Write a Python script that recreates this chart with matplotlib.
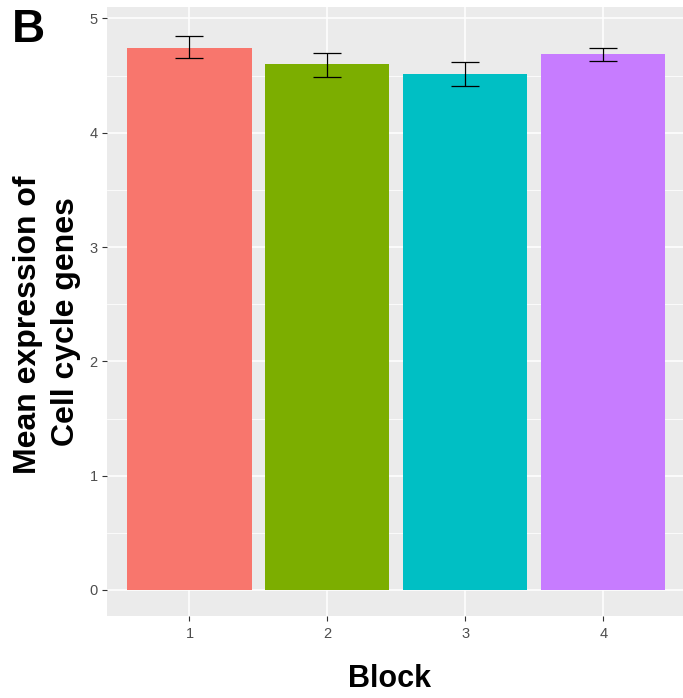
import numpy as np
import matplotlib.pyplot as plt

plt.rcParams['font.family'] = ['Liberation Sans', 'DejaVu Sans']

blocks = ['1', '2', '3', '4']
means = [4.745, 4.60, 4.515, 4.69]
err_lo = [4.65, 4.485, 4.405, 4.625]
err_hi = [4.85, 4.70, 4.615, 4.745]
colors = ['#F8766D', '#7CAE00', '#00BFC4', '#C77CFF']

W, H = 683, 698
fig = plt.figure(figsize=(W / 100, H / 100), dpi=100)
# panel in pixel coords: left 106.7, right 686 (cut by image edge), top 6.7, bottom 616
ax = fig.add_axes([106.7 / W, 1 - 616 / H, (686 - 106.7) / W, (616 - 6.7) / H])
ax.set_facecolor('#EBEBEB')

x = np.arange(1, len(blocks) + 1)
ax.bar(x, means, width=0.9, color=colors, zorder=2)
yerr = [np.array(means) - np.array(err_lo), np.array(err_hi) - np.array(means)]
ax.errorbar(x, means, yerr=yerr, fmt='none', ecolor='black', elinewidth=0.9,
            capsize=10, capthick=0.9, zorder=3)

ax.set_xlim(0.4, 4.6)
ax.set_ylim(-0.2275, 5.103)
ax.set_xticks(x)
ax.set_xticklabels(blocks)
ax.set_yticks(range(6))
ax.set_yticks([0.5, 1.5, 2.5, 3.5, 4.5], minor=True)
ax.grid(which='major', color='white', linewidth=1.1, zorder=0)
ax.grid(which='minor', axis='y', color='white', linewidth=0.55, zorder=0)
ax.set_axisbelow(True)
for s in ax.spines.values():
    s.set_visible(False)
ax.tick_params(which='major', length=3.6, width=0.8, color='#333333',
               labelcolor='#4D4D4D', labelsize=10.5, pad=3)
ax.tick_params(axis='x', which='major', pad=4.5)
ax.tick_params(which='minor', length=0)

fig.text(390 / W, 1 - 687 / H, 'Block', fontsize=22, fontweight='bold',
         ha='center', va='baseline')
fig.text(35.7 / W, 1 - 324.5 / H, 'Mean expression of', fontsize=23,
         fontweight='bold', rotation=90, rotation_mode='anchor',
         ha='center', va='baseline')
fig.text(74 / W, 1 - 321.5 / H, 'Cell cycle genes', fontsize=23,
         fontweight='bold', rotation=90, rotation_mode='anchor',
         ha='center', va='baseline')
fig.text(12 / W, 1 - 42.3 / H, 'B', fontsize=33, fontweight='bold',
         va='baseline')

fig.savefig('out.png', dpi=100)
